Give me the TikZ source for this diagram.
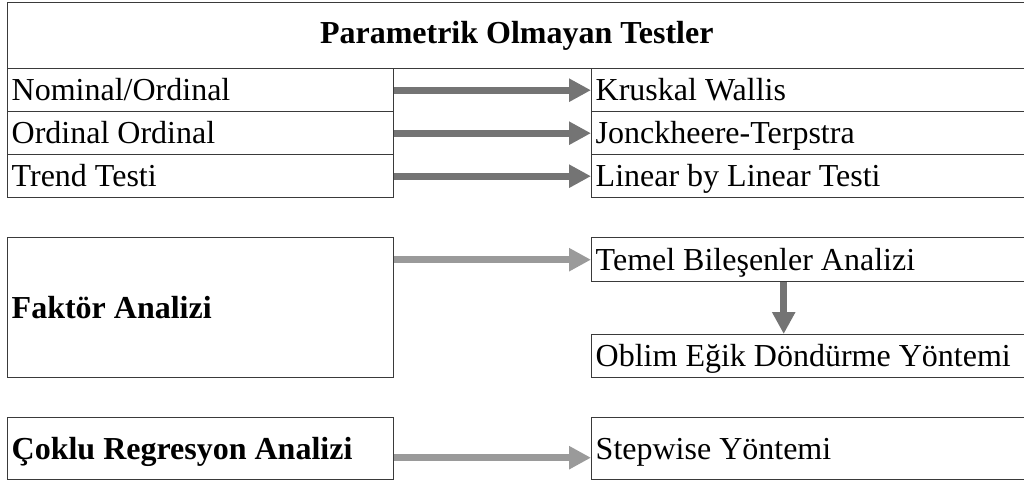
\documentclass[tikz,border=0pt]{standalone}
\usepackage{fontspec}
\setmainfont{Liberation Serif}
\usetikzlibrary{arrows.meta}
\definecolor{boxline}{HTML}{3A3A3A}
\definecolor{arrdark}{HTML}{747474}
\definecolor{arrlight}{HTML}{9A9A9A}
\newcommand\lcell[1]{\makebox[378pt][l]{\rule[-10pt]{0pt}{41pt}#1}}
\newcommand\rcell[1]{\makebox[431pt][l]{\rule[-10pt]{0pt}{41pt}#1}}
\begin{document}
\begin{tikzpicture}[x=1pt,y=-1pt,
  cellbase/.style={draw=boxline, line width=1.4pt, anchor=north west, inner xsep=4pt, inner ysep=0pt,
    font=\fontsize{32}{38}\selectfont},
  leftcell/.style={cellbase, minimum width=386pt},
  rightcell/.style={cellbase, minimum width=439pt},
  blockarrow/.style={line width=7pt, -{Triangle[length=22pt,width=22pt]}},
]
\useasboundingbox (0,0) rectangle (1024,481);

% header
\node[draw=boxline, line width=1.4pt, anchor=north west, minimum width=1023pt, minimum height=66pt,
  font=\fontsize{32}{38}\selectfont\bfseries] (head) at (7,2) {\hspace*{-5pt}Parametrik Olmayan Testler};

% table rows
\node[leftcell, minimum height=43pt] (nom) at (7,68) {\lcell{Nominal/Ordinal}};
\node[leftcell, minimum height=43pt] (ord) at (7,111) {\lcell{Ordinal Ordinal}};
\node[leftcell, minimum height=43pt] (trend) at (7,154) {\lcell{Trend Testi}};
\node[rightcell, minimum height=43pt] (kw) at (591,68) {\rcell{Kruskal Wallis}};
\node[rightcell, minimum height=43pt] (jt) at (591,111) {\rcell{Jonckheere-Terpstra}};
\node[rightcell, minimum height=43pt] (lin) at (591,154) {\rcell{Linear by Linear Testi}};

% factor analysis
\node[leftcell, minimum height=140pt, font=\fontsize{32}{38}\selectfont\bfseries] (faktor) at (7,237) {\lcell{Faktör Analizi}};
\node[rightcell, minimum height=44pt] (temel) at (591,237) {\rcell{Temel Bileşenler Analizi}};
\node[rightcell, minimum height=43pt] (oblim) at (591,334) {\rcell{Oblim Eğik Döndürme Yöntemi}};

% regression
\node[leftcell, minimum height=62pt, font=\fontsize{32}{38}\selectfont\bfseries] (coklu) at (7,417) {\lcell{Çoklu Regresyon Analizi}};
\node[rightcell, minimum height=62pt] (step) at (591,417) {\rcell{Stepwise Yöntemi}};

% arrows
\draw[blockarrow, arrdark] (nom.east) -- (kw.west);
\draw[blockarrow, arrdark] (ord.east) -- (jt.west);
\draw[blockarrow, arrdark] (trend.east) -- (lin.west);
\draw[blockarrow, arrlight] (faktor.east |- temel.west) -- (temel.west);
\draw[blockarrow, arrdark] ([xshift=-27.5pt]temel.south) -- ([xshift=-27.5pt]oblim.north);
\draw[blockarrow, arrlight] ([yshift=-9pt]coklu.east) -- ([yshift=-9pt]step.west);
\end{tikzpicture}
\end{document}
